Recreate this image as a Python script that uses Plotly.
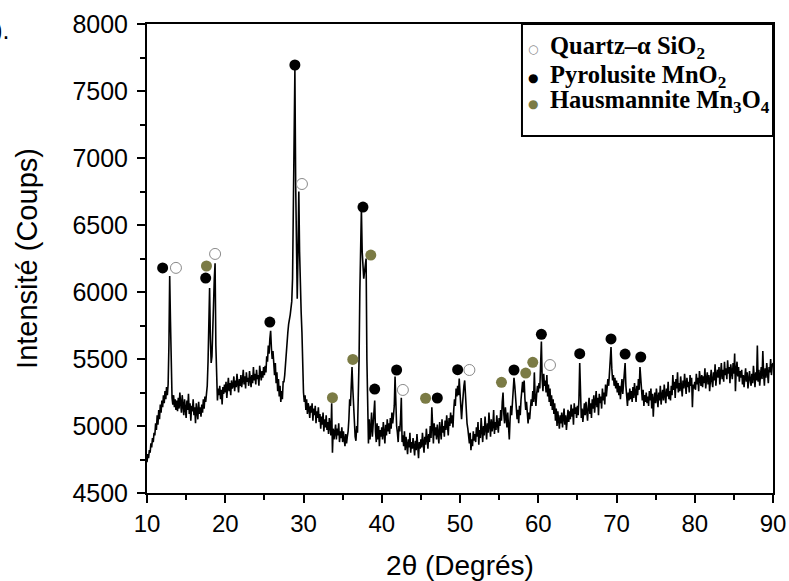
import plotly.graph_objects as go

# ---- XRD intensity, read every 0.1 deg from 10.0 to 90.0 (one row per degree) ----
intensity_rows = [
    [4730, 4790, 4760, 4820, 4800, 4870, 4840, 4910, 4880, 4950],  # 10
    [4930, 5020, 4970, 5080, 5010, 5120, 5050, 5160, 5100, 5190],  # 11
    [5140, 5230, 5170, 5260, 5200, 5290, 5230, 5310, 5600, 6120],  # 12
    [5780, 5300, 5210, 5160, 5230, 5140, 5200, 5120, 5190, 5110],  # 13
    [5210, 5130, 5250, 5170, 5100, 5230, 5150, 5080, 5200, 5140],  # 14
    [5060, 5190, 5120, 5240, 5090, 5170, 5040, 5150, 5110, 5200],  # 15
    [5080, 5140, 5020, 5170, 5100, 5050, 5180, 5090, 5140, 5070],  # 16
    [5160, 5100, 5200, 5130, 5220, 5180, 5240, 5300, 5480, 5800],  # 17
    [6030, 5650, 5470, 5520, 5650, 5900, 6100, 6215, 5600, 5250],  # 18
    [5190, 5280, 5230, 5300, 5200, 5270, 5160, 5290, 5240, 5310],  # 19
    [5250, 5330, 5210, 5290, 5360, 5260, 5320, 5230, 5340, 5280],  # 20
    [5300, 5370, 5260, 5340, 5290, 5390, 5310, 5250, 5350, 5300],  # 21
    [5380, 5290, 5340, 5420, 5310, 5370, 5280, 5400, 5330, 5360],  # 22
    [5300, 5410, 5350, 5290, 5380, 5320, 5440, 5340, 5390, 5310],  # 23
    [5420, 5350, 5380, 5300, 5450, 5370, 5340, 5410, 5360, 5440],  # 24
    [5380, 5450, 5400, 5520, 5480, 5600, 5540, 5650, 5710, 5580],  # 25
    [5500, 5560, 5430, 5380, 5470, 5320, 5400, 5260, 5350, 5220],  # 26
    [5300, 5180, 5260, 5200, 5330, 5330, 5380, 5480, 5560, 5640],  # 27
    [5700, 5760, 5790, 5830, 5880, 5930, 6100, 6500, 7200, 7660],  # 28
    [6800, 6100, 5950, 6300, 6750, 6300, 6000, 5850, 5700, 5400],  # 29
    [5250, 5180, 5230, 5120, 5200, 5090, 5170, 5130, 5060, 5150],  # 30
    [5100, 5170, 5040, 5130, 5080, 5150, 5020, 5110, 5060, 5140],  # 31
    [5030, 5090, 4980, 5070, 5010, 5100, 4960, 5050, 4990, 5080],  # 32
    [4970, 5030, 4940, 5060, 5000, 4930, 5170, 4800, 4980, 4900],  # 33
    [4950, 5010, 4900, 4980, 4930, 5020, 4880, 4960, 4910, 4990],  # 34
    [4880, 4960, 4900, 4850, 4940, 4870, 4920, 4960, 5050, 5200],  # 35
    [5150, 5300, 5440, 5280, 5150, 5050, 4920, 4890, 5000, 4950],  # 36
    [5150, 5500, 6000, 6400, 6620, 6300, 6150, 6100, 6150, 6240],  # 37
    [6250, 5500, 4950, 4870, 5050, 4900, 4980, 5100, 4920, 5000],  # 38
    [5050, 5190, 4960, 4880, 5020, 4900, 5000, 4850, 4970, 4920],  # 39
    [4990, 4900, 5030, 4950, 4870, 5010, 4930, 5050, 4960, 5020],  # 40
    [4940, 5060, 4980, 5100, 5020, 5080, 5150, 5370, 5100, 5000],  # 41
    [4950, 4880, 5000, 4960, 5050, 5210, 4880, 4930, 4850, 4960],  # 42
    [4820, 4920, 4860, 4790, 4900, 4840, 4950, 4800, 4880, 4830],  # 43
    [4910, 4850, 4780, 4890, 4820, 4940, 4860, 4760, 4880, 4830],  # 44
    [4900, 4840, 4950, 4870, 4800, 4920, 4860, 4980, 4890, 4830],  # 45
    [4940, 4880, 5000, 4910, 5140, 4960, 4870, 5020, 4930, 4990],  # 46
    [4900, 5010, 4940, 4870, 5030, 4960, 4900, 5050, 4950, 5000],  # 47
    [4920, 5040, 4970, 5080, 4990, 4930, 5060, 5000, 5100, 5020],  # 48
    [5080, 4990, 5120, 5200, 5150, 5280, 5220, 5300, 5230, 5355],  # 49
    [5250, 5120, 5050, 5150, 5250, 5300, 5340, 5200, 5080, 5020],  # 50
    [4980, 4920, 4870, 4950, 4820, 4900, 4850, 4960, 4890, 4940],  # 51
    [4880, 4990, 4920, 5030, 4860, 4970, 4910, 5060, 4940, 4880],  # 52
    [5000, 4930, 5070, 4960, 4900, 5020, 4950, 5100, 4980, 4920],  # 53
    [5050, 4960, 5000, 5120, 4940, 5030, 4970, 5080, 5010, 4950],  # 54
    [5060, 5000, 5120, 5040, 5180, 5250, 5090, 5020, 5140, 5060],  # 55
    [4990, 5100, 5030, 4900, 5050, 5150, 5080, 5200, 5280, 5360],  # 56
    [5300, 5180, 5100, 5050, 5120, 5020, 5150, 5080, 5200, 5280],  # 57
    [5330, 5250, 5340, 5200, 5120, 5180, 5060, 5020, 5100, 5050],  # 58
    [5130, 5200, 5150, 5260, 5180, 5400, 5220, 5150, 5240, 5300],  # 59
    [5250, 5320, 5280, 5450, 5630, 5350, 5260, 5390, 5300, 5340],  # 60
    [5250, 5380, 5220, 5310, 5180, 5280, 5150, 5230, 5120, 5200],  # 61
    [5090, 5170, 5040, 5130, 5000, 5110, 5060, 4980, 5080, 5020],  # 62
    [5100, 4990, 5060, 5130, 5010, 5080, 4970, 5050, 5120, 5030],  # 63
    [5110, 5050, 5160, 5070, 5130, 5010, 5170, 5090, 5140, 5060],  # 64
    [5150, 5080, 5200, 5470, 5160, 5060, 5130, 5030, 5100, 5170],  # 65
    [5080, 5180, 5110, 5040, 5150, 5210, 5090, 5170, 5060, 5200],  # 66
    [5130, 5230, 5100, 5190, 5260, 5140, 5210, 5080, 5240, 5170],  # 67
    [5220, 5130, 5280, 5190, 5250, 5160, 5310, 5220, 5280, 5350],  # 68
    [5300, 5380, 5470, 5590, 5430, 5340, 5380, 5300, 5360, 5280],  # 69
    [5340, 5250, 5320, 5230, 5300, 5200, 5280, 5350, 5240, 5310],  # 70
    [5380, 5470, 5300, 5220, 5150, 5250, 5190, 5280, 5200, 5260],  # 71
    [5180, 5290, 5210, 5320, 5240, 5180, 5300, 5230, 5350, 5270],  # 72
    [5440, 5330, 5260, 5190, 5270, 5150, 5230, 5180, 5250, 5170],  # 73
    [5220, 5150, 5260, 5190, 5280, 5130, 5240, 5070, 5200, 5250],  # 74
    [5170, 5280, 5210, 5140, 5250, 5190, 5300, 5160, 5230, 5270],  # 75
    [5190, 5310, 5230, 5170, 5280, 5220, 5330, 5200, 5260, 5190],  # 76
    [5300, 5230, 5380, 5270, 5330, 5210, 5350, 5280, 5400, 5250],  # 77
    [5320, 5260, 5370, 5290, 5220, 5340, 5280, 5390, 5300, 5240],  # 78
    [5360, 5290, 5330, 5250, 5380, 5300, 5360, 5140, 5310, 5280],  # 79
    [5330, 5270, 5390, 5310, 5360, 5260, 5410, 5340, 5300, 5380],  # 80
    [5290, 5370, 5320, 5430, 5280, 5350, 5400, 5310, 5380, 5260],  # 81
    [5350, 5420, 5330, 5290, 5400, 5340, 5460, 5300, 5380, 5420],  # 82
    [5360, 5440, 5310, 5400, 5470, 5350, 5420, 5330, 5480, 5380],  # 83
    [5430, 5350, 5490, 5390, 5440, 5320, 5460, 5400, 5350, 5470],  # 84
    [5390, 5540, 5260, 5420, 5480, 5370, 5440, 5330, 5410, 5360],  # 85
    [5420, 5310, 5380, 5290, 5360, 5430, 5330, 5400, 5280, 5350],  # 86
    [5410, 5340, 5300, 5390, 5320, 5450, 5360, 5290, 5400, 5340],  # 87
    [5600, 5330, 5420, 5300, 5380, 5440, 5350, 5560, 5390, 5300],  # 88
    [5430, 5360, 5470, 5380, 5320, 5440, 5400, 5500, 5380, 5450],  # 89
    [5470],                                                        # 90
]
intensity = [v for row in intensity_rows for v in row]
two_theta = [round(10 + 0.1 * i, 1) for i in range(len(intensity))]

# ---- phase markers ----
quartz_x = [13.7, 18.7, 29.8, 42.7, 51.2, 61.5]
quartz_y = [6180, 6284, 6806, 5269, 5418, 5455]
pyro_x = [12.0, 17.5, 25.7, 28.9, 37.6, 39.1, 41.9, 47.1, 49.7, 56.9, 60.4, 65.3, 69.3, 71.1, 73.1]
pyro_y = [6180, 6104, 5776, 7694, 6634, 5276, 5418, 5209, 5420, 5418, 5684, 5540, 5650, 5537, 5515]
haus_x = [17.6, 33.7, 36.3, 38.6, 45.6, 55.3, 58.4, 59.3]
haus_y = [6194, 5211, 5497, 6276, 5207, 5326, 5395, 5475]

legend_names = ["Quartz\u2013\u03b1 SiO<sub>2</sub>", "Pyrolusite MnO<sub>2</sub>",
                "Hausmannite Mn<sub>3</sub>O<sub>4</sub>"]

OLIVE = "#7b7b45"
SANS = "Liberation Sans, Arial"
SERIF = "Liberation Serif, Times New Roman"

fig = go.Figure()
fig.add_trace(go.Scatter(x=two_theta, y=intensity, mode="lines",
                         line=dict(color="black", width=1.6), showlegend=False))

marker_styles = [
    dict(color="white", size=11, line=dict(color="#8a8a8a", width=1)),
    dict(color="black", size=11, line=dict(color="black", width=0)),
    dict(color=OLIVE, size=11, line=dict(color=OLIVE, width=0)),
]
for xs, ys, st, nm in zip([quartz_x, pyro_x, haus_x], [quartz_y, pyro_y, haus_y],
                          marker_styles, legend_names):
    fig.add_trace(go.Scatter(x=xs, y=ys, mode="markers", marker=st, name=nm, showlegend=False))

# ---- legend box (paper coordinates) ----
fig.add_shape(type="rect", xref="paper", yref="paper", x0=0.599, x1=1.0, y0=0.761, y1=1.0,
              line=dict(color="black", width=2), fillcolor="white", layer="above")
legend_symbols = [("\u25cb", "#8a8a8a"), ("\u25cf", "black"), ("\u25cf", OLIVE)]
legend_rows_y = [0.950, 0.889, 0.834]
for (sym, col), name, yy in zip(legend_symbols, legend_names, legend_rows_y):
    fig.add_annotation(text=sym, xref="paper", yref="paper", x=0.617, y=yy - 0.004,
                       xanchor="center", yanchor="middle", showarrow=False,
                       font=dict(family="DejaVu Sans", size=12, color=col))
    fig.add_annotation(text="<b>" + name + "</b>", xref="paper", yref="paper", x=0.640, y=yy,
                       xanchor="left", yanchor="middle", showarrow=False,
                       font=dict(family=SERIF, size=24.5, color="black"))

fig.add_annotation(text="(b).", xref="paper", yref="paper", x=-0.2157, y=0.987,
                   xanchor="right", yanchor="middle", showarrow=False,
                   font=dict(family=SANS, size=25, color="black"))

axis_common = dict(showline=True, linecolor="black", linewidth=2, mirror=True,
                   ticks="outside", tickwidth=2, ticklen=8, tickcolor="black",
                   showgrid=False, zeroline=False, automargin=False)

fig.update_layout(
    width=789, height=581,
    margin=dict(l=147, r=16, t=24, b=88),
    paper_bgcolor="white", plot_bgcolor="white",
    showlegend=False,
    xaxis=dict(range=[10, 90], dtick=10, tick0=10,
               tickfont=dict(family=SANS, size=24, color="black"),
               minor=dict(dtick=5, ticks="outside", ticklen=5, tickwidth=2, tickcolor="black"),
               title=dict(text="2\u03b8 (Degrés)", standoff=22,
                          font=dict(family=SANS, size=28, color="black")),
               **axis_common),
    yaxis=dict(range=[4500, 8000], dtick=500,
               tickfont=dict(family=SANS, size=25, color="black"),
               ticklabelstandoff=4,
               minor=dict(dtick=250, ticks="outside", ticklen=5, tickwidth=2, tickcolor="black"),
               title=dict(text="Intensité (Coups)", standoff=26,
                          font=dict(family=SANS, size=29, color="black")),
               **axis_common),
)

fig.write_html("out.html", config={"displayModeBar": False},
               post_script="document.body.style.margin='0px';")
